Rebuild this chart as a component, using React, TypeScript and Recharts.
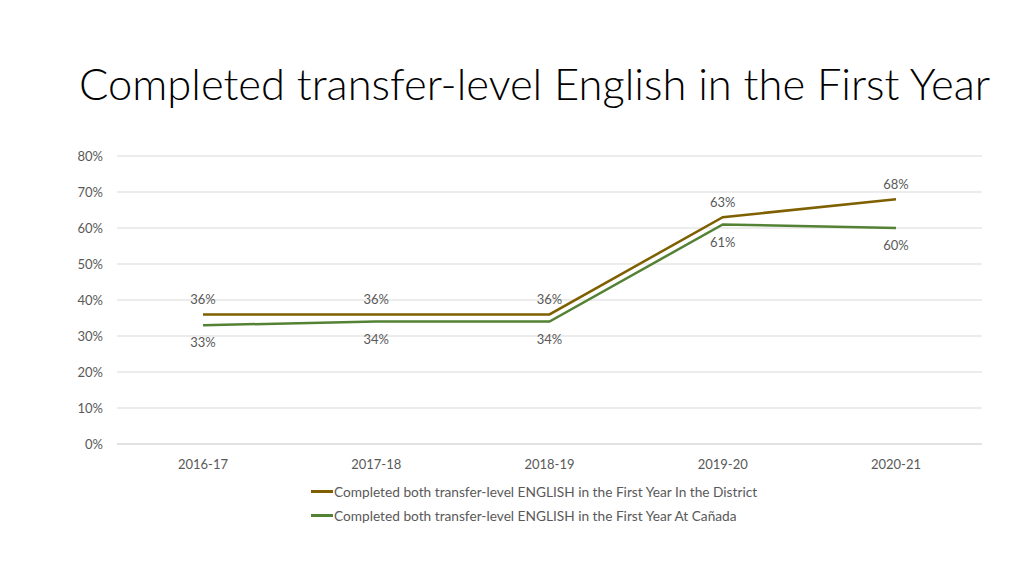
import React from 'react';
import { LineChart, Line, XAxis, YAxis, CartesianGrid, LabelList } from 'recharts';

const years = ['2016-17', '2017-18', '2018-19', '2019-20', '2020-21'];
const districtValues = [0.36, 0.36, 0.36, 0.63, 0.68];
const canadaValues = [0.33, 0.34, 0.34, 0.61, 0.6];
const yTicks = [0, 0.1, 0.2, 0.3, 0.4, 0.5, 0.6, 0.7, 0.8];

const districtName = 'Completed both transfer-level ENGLISH in the First Year In the District';
const canadaName = 'Completed both transfer-level ENGLISH in the First Year At Cañada';

const DISTRICT_COLOR = '#7f6000';
const CANADA_COLOR = '#548235';
const TEXT_COLOR = '#595959';
const FONT = 'Lato, "Open Sans", sans-serif';

const data = years.map((year, i) => ({
  year,
  district: districtValues[i],
  canada: canadaValues[i],
}));

const pct = (v: any) => `${Math.round(Number(v) * 100)}%`;

const legendItems = [
  { name: districtName, color: DISTRICT_COLOR },
  { name: canadaName, color: CANADA_COLOR },
];

const App: React.FC = () => {
  return (
    <div style={{ position: 'absolute', left: 0, top: 0, width: 1024, height: 576, background: '#fff', overflow: 'hidden' }}>
      <div
        style={{
          position: 'absolute',
          left: 79,
          top: 57,
          fontFamily: FONT,
          fontWeight: 300,
          fontSize: 43.5,
          color: '#000',
          whiteSpace: 'nowrap',
        }}
      >
        Completed transfer-level English in the First Year
      </div>
      <LineChart
        width={1024}
        height={576}
        data={data}
        margin={{ top: 156, right: 42, bottom: 102, left: 57 }}
        style={{ position: 'absolute', left: 0, top: 0 }}
      >
        <CartesianGrid vertical={false} stroke="#d9d9d9" />
        <XAxis
          dataKey="year"
          height={30}
          padding={{ left: 86, right: 86 }}
          axisLine={{ stroke: '#d9d9d9' }}
          tickLine={false}
          tickMargin={10}
          tick={{ fill: TEXT_COLOR, fontSize: 13, fontFamily: FONT }}
        />
        <YAxis
          width={60}
          domain={[0, 0.8]}
          ticks={yTicks}
          tickFormatter={pct}
          axisLine={false}
          tickLine={false}
          tickMargin={8}
          tick={{ fill: TEXT_COLOR, fontSize: 13, fontFamily: FONT }}
        />
        <Line
          dataKey="district"
          name={districtName}
          stroke={DISTRICT_COLOR}
          strokeWidth={2.5}
          dot={false}
          isAnimationActive={false}
        >
          <LabelList
            dataKey="district"
            position="top"
            offset={10}
            formatter={pct}
            style={{ fill: TEXT_COLOR, fontSize: 13, fontFamily: FONT }}
          />
        </Line>
        <Line
          dataKey="canada"
          name={canadaName}
          stroke={CANADA_COLOR}
          strokeWidth={2.5}
          dot={false}
          isAnimationActive={false}
        >
          <LabelList
            dataKey="canada"
            position="bottom"
            offset={13}
            formatter={pct}
            style={{ fill: TEXT_COLOR, fontSize: 13, fontFamily: FONT }}
          />
        </Line>
      </LineChart>
      <div
        style={{
          position: 'absolute',
          left: 311,
          top: 479,
          fontFamily: FONT,
          fontSize: 13.7,
          color: TEXT_COLOR,
        }}
      >
        {legendItems.map((item) => (
          <div key={item.name} style={{ display: 'flex', alignItems: 'center', height: 24 }}>
            <span style={{ display: 'inline-block', width: 22, height: 3, background: item.color }} />
            <span style={{ marginLeft: 1, whiteSpace: 'nowrap' }}>{item.name}</span>
          </div>
        ))}
      </div>
    </div>
  );
};

export default App;
